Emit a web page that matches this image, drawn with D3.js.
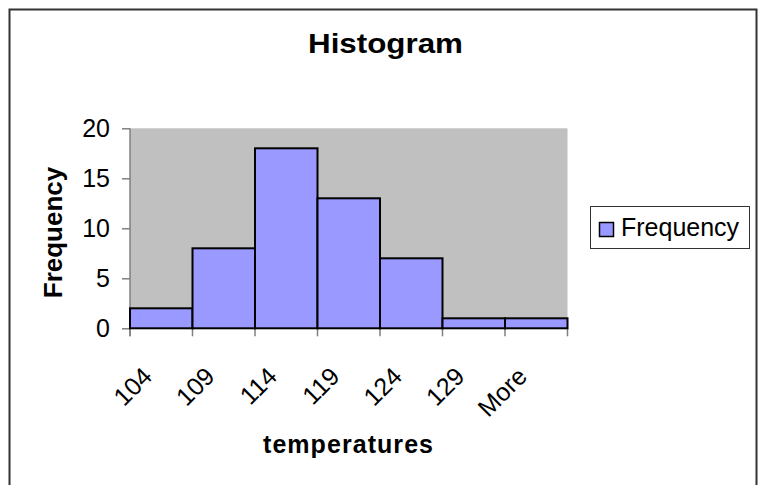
<!DOCTYPE html>
<html>
<head>
<meta charset="utf-8">
<script src="https://cdn.jsdelivr.net/npm/d3@7"></script>
<style>
  html, body { margin: 0; padding: 0; background: #fff; }
  svg { display: block; }
  text { font-family: "Liberation Sans", Arial, sans-serif; fill: #000; }
</style>
</head>
<body>
<svg id="chart" width="759" height="485"></svg>
<script>
const categories = ["104", "109", "114", "119", "124", "129", "More"];
const frequency = [2, 8, 18, 13, 7, 1, 1];
const yTicks = [0, 5, 10, 15, 20];
const seriesName = "Frequency";
const titleText = "Histogram";
const xTitle = "temperatures";
const yTitle = "Frequency";

const svg = d3.select("#chart");

// outer border
svg.append("rect")
  .attr("x", 9.5).attr("y", 9.5)
  .attr("width", 747).attr("height", 490)
  .attr("fill", "#fff").attr("stroke", "#333").attr("stroke-width", 2);

const plot = { left: 130, right: 567.5, top: 128.3, bottom: 328.3 };

const x = d3.scaleBand().domain(categories).range([plot.left, plot.right]).padding(0);
const y = d3.scaleLinear().domain([0, 20]).range([plot.bottom, plot.top]);

// plot area
svg.append("rect")
  .attr("x", plot.left).attr("y", plot.top)
  .attr("width", plot.right - plot.left).attr("height", plot.bottom - plot.top)
  .attr("fill", "#C0C0C0");

// y axis
const yAxis = d3.axisLeft(y).tickValues(yTicks).tickSize(8).tickPadding(12);
const yg = svg.append("g").attr("transform", `translate(${plot.left},0)`).call(yAxis);
yg.select(".domain").remove();
yg.selectAll(".tick line").attr("stroke", "#808080").attr("stroke-width", 1.5);
yg.selectAll(".tick text")
  .style("font-family", "Liberation Sans, Arial, sans-serif")
  .style("font-size", "25px").attr("fill", "#000");
svg.append("line")
  .attr("x1", plot.left).attr("x2", plot.left)
  .attr("y1", plot.top).attr("y2", plot.bottom + 8)
  .attr("stroke", "#808080").attr("stroke-width", 1.5);

// x ticks at bin boundaries
const boundaries = categories.map(c => x(c)).concat([plot.right]);
svg.append("g").selectAll("line").data(boundaries).join("line")
  .attr("x1", d => d).attr("x2", d => d)
  .attr("y1", plot.bottom).attr("y2", plot.bottom + 8)
  .attr("stroke", "#808080").attr("stroke-width", 1.5);

// bars
svg.append("g").selectAll("rect").data(frequency).join("rect")
  .attr("x", (d, i) => x(categories[i]))
  .attr("y", d => y(d))
  .attr("width", x.bandwidth())
  .attr("height", d => y(0) - y(d))
  .attr("fill", "#9999FF")
  .attr("stroke", "#000").attr("stroke-width", 2);

// x tick labels
svg.append("g").selectAll("text").data(categories).join("text")
  .attr("transform", d => `translate(${x(d) + 11},${plot.bottom + 37}) rotate(-45)`)
  .attr("text-anchor", "end")
  .attr("dy", "0.71em")
  .style("font-size", "25px")
  .text(d => d);

// title
svg.append("text")
  .attr("x", 385.5).attr("y", 53.3)
  .attr("text-anchor", "middle")
  .style("font-size", "27px").style("font-weight", "bold")
  .attr("textLength", 155).attr("lengthAdjust", "spacingAndGlyphs")
  .text(titleText);

// x title
svg.append("text")
  .attr("x", 348).attr("y", 453.3)
  .attr("text-anchor", "middle")
  .style("font-size", "25px").style("font-weight", "bold")
  .attr("textLength", 170).attr("lengthAdjust", "spacing")
  .text(xTitle);

// y title
svg.append("text")
  .attr("transform", "translate(62,232.5) rotate(-90)")
  .attr("text-anchor", "middle")
  .style("font-size", "26px").style("font-weight", "bold")
  .text(yTitle);

// legend
const lg = svg.append("g");
lg.append("rect")
  .attr("x", 590.5).attr("y", 206.5).attr("width", 159).attr("height", 42)
  .attr("fill", "#fff").attr("stroke", "#333").attr("stroke-width", 1);
lg.append("rect")
  .attr("x", 599.5).attr("y", 222.5).attr("width", 14).attr("height", 14)
  .attr("fill", "#9999FF").attr("stroke", "#000").attr("stroke-width", 1.5);
lg.append("text")
  .attr("x", 621).attr("y", 236)
  .style("font-size", "25px")
  .text(seriesName);
</script>
</body>
</html>
